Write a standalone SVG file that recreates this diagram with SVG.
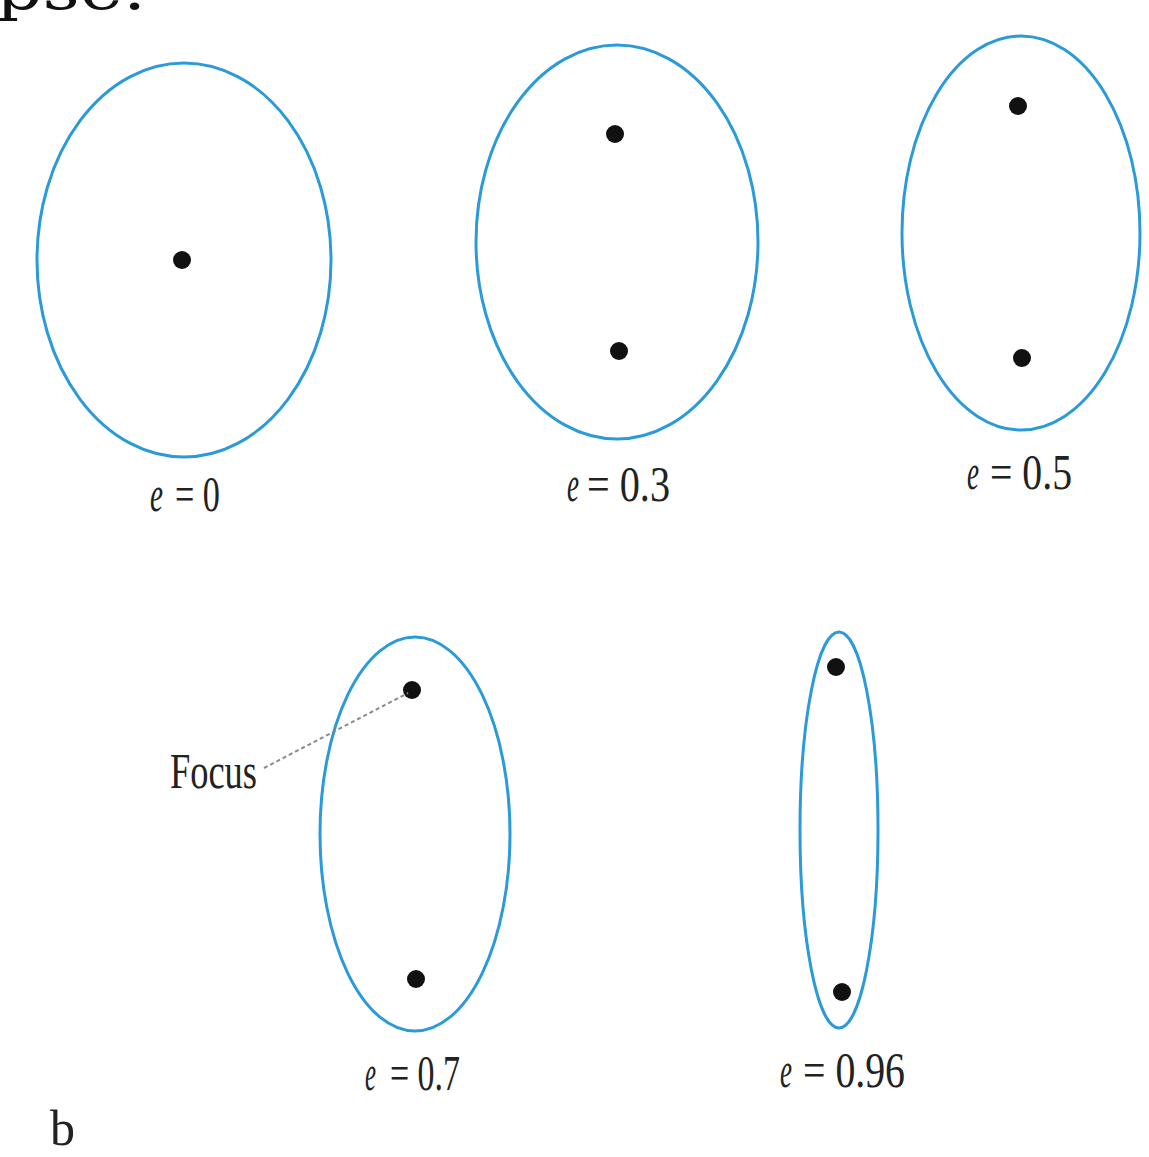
<svg xmlns="http://www.w3.org/2000/svg" width="1149" height="1157" viewBox="0 0 1149 1157">
<style>
.orbit{fill:none;stroke:#2b9ad9;stroke-width:3}
.focus{fill:#111}
.lbl{font-family:"Liberation Serif",serif;font-size:50px;fill:#222}
.it{font-style:italic}
</style>
<rect width="1149" height="1157" fill="#ffffff"/>
<text x="-4" y="9" font-family="DejaVu Serif,serif" font-size="58" fill="#111" textLength="150" lengthAdjust="spacingAndGlyphs">pse.</text>
<g id="e0">
<ellipse class="orbit" cx="184" cy="260" rx="147" ry="197"/>
<circle class="focus" cx="182" cy="260" r="9"/>
<text class="lbl it" x="150" y="511" textLength="13" lengthAdjust="spacingAndGlyphs">e</text>
<text class="lbl" x="175" y="511" textLength="45" lengthAdjust="spacingAndGlyphs">= 0</text>
</g>
<g id="e03">
<ellipse class="orbit" cx="617" cy="242" rx="141" ry="197"/>
<circle class="focus" cx="615" cy="134" r="9"/>
<circle class="focus" cx="619" cy="351" r="9"/>
<text class="lbl it" x="567" y="501" textLength="12" lengthAdjust="spacingAndGlyphs">e</text>
<text class="lbl" x="587" y="501" textLength="83" lengthAdjust="spacingAndGlyphs">= 0.3</text>
</g>
<g id="e05">
<ellipse class="orbit" cx="1021" cy="233" rx="119" ry="197"/>
<circle class="focus" cx="1018" cy="106" r="9"/>
<circle class="focus" cx="1022" cy="358" r="9"/>
<text class="lbl it" x="967" y="489" textLength="12" lengthAdjust="spacingAndGlyphs">e</text>
<text class="lbl" x="990" y="489" textLength="82" lengthAdjust="spacingAndGlyphs">= 0.5</text>
</g>
<g id="e07">
<ellipse class="orbit" cx="415" cy="834" rx="95" ry="197"/>
<circle class="focus" cx="412" cy="690" r="9"/>
<circle class="focus" cx="416" cy="979" r="9"/>
<text class="lbl it" x="365" y="1090" textLength="11" lengthAdjust="spacingAndGlyphs">e</text>
<text class="lbl" x="390" y="1090" textLength="70" lengthAdjust="spacingAndGlyphs">= 0.7</text>
</g>
<g id="e096">
<ellipse class="orbit" cx="839" cy="830" rx="39" ry="198"/>
<circle class="focus" cx="836" cy="667" r="9"/>
<circle class="focus" cx="842" cy="992" r="9"/>
<text class="lbl it" x="780" y="1087" textLength="12" lengthAdjust="spacingAndGlyphs">e</text>
<text class="lbl" x="803" y="1087" textLength="102" lengthAdjust="spacingAndGlyphs">= 0.96</text>
</g>
<g id="focus-label">
<text class="lbl" x="170" y="788" textLength="87" lengthAdjust="spacingAndGlyphs">Focus</text>
</g>
<g id="connectors">
<line x1="264" y1="768" x2="408" y2="693" stroke="#8a8a8a" stroke-width="2" stroke-dasharray="4,3"/>
</g>
<text class="lbl" x="50" y="1145" font-size="44">b</text>
</svg>
